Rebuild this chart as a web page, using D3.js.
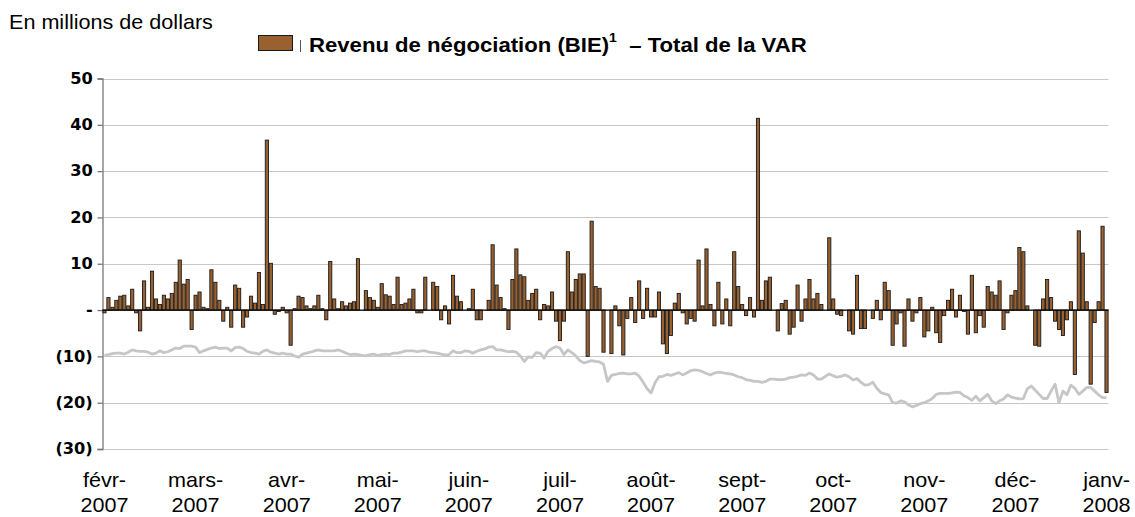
<!DOCTYPE html>
<html>
<head>
<meta charset="utf-8">
<script src="https://cdn.jsdelivr.net/npm/d3@7"></script>
<style>
  body { margin: 0; background: #fff; }
  svg { display: block; }
</style>
</head>
<body>
<div id="chart"></div>
<script>
// daily trading revenue, millions $ (one value per trading day, feb 2007 - jan 2008)
var revenue = [
  -0.6, 2.7, 0.6, 2.1, 3.0, 3.2, 0.9, 4.5, -0.6, -4.5,
  6.3, 0.6, 8.4, 2.4, 1.2, 3.2, 2.4, 3.6, 6.0, 10.8,
  5.6, 6.6, -4.2, 3.2, 3.9, 0.6, 0.3, 8.7, 6.0, 2.1,
  -2.4, 0.6, -3.7, 5.4, 4.7, -3.7, -1.5, 3.0, 1.5, 8.1,
  1.2, 36.7, 10.1, -0.9, -0.3, 0.6, -0.6, -7.6, 0.3, 3.0,
  2.7, 0.9, 0.3, 0.9, 3.2, 0.3, -2.1, 10.5, 2.4, 0.3,
  1.8, 0.9, 1.5, 1.8, 11.1, 0, 4.2, 2.7, 2.1, 0.6,
  5.7, 3.3, 3.0, 1.2, 7.1, 1.2, 1.5, 2.4, 4.5, -0.6,
  -0.6, 7.1, 0, 6.0, 5.1, -2.1, 0.9, -3.0, 7.5, 3.0,
  1.8, 0, 0.3, 4.5, -2.1, -2.1, 0, 2.1, 14.1, 5.4,
  2.7, 0.3, -4.2, 6.6, 13.2, 7.6, 7.2, 2.1, 3.6, 4.5,
  -2.1, 1.2, 0.9, 3.9, -2.4, -6.6, -2.4, 12.6, 3.9, 6.6,
  7.8, 7.8, -10.0, 19.2, 5.1, 4.7, -9.1, 0, -9.4, 0.9,
  -3.4, -9.7, -1.8, 2.7, -2.7, 6.3, -1.8, 4.7, -1.5, -1.5,
  3.9, -7.3, -9.4, -5.5, 1.5, 3.6, -0.6, -3.0, -1.8, -2.4,
  10.8, 0.9, 13.2, 1.2, -3.4, 6.0, -3.0, 2.4, -3.4, 12.6,
  5.1, 1.2, -1.2, 2.7, -1.5, 41.4, 2.1, 6.3, 7.1, 0,
  -4.5, 1.4, 2.1, -5.2, -3.7, 5.4, -2.4, 2.4, 6.6, 2.4,
  3.6, 1.2, 0, 15.6, 2.4, -0.9, -1.2, 0, -4.5, -5.2,
  7.5, -4.0, -4.0, 0, -1.8, 2.1, -2.1, 6.0, 4.2, -7.6,
  -3.0, -0.6, -7.8, 2.4, -2.4, -0.6, 2.7, -5.8, -4.5, 0.6,
  -4.9, -7.0, -1.2, 2.1, 4.5, -1.5, 3.2, -0.3, -5.2, 7.5,
  -4.9, -1.2, -3.7, 5.1, 3.9, 3.2, 6.3, -4.2, -0.6, 3.2,
  4.2, 13.5, 12.6, 0.9, 0, -7.6, -7.8, 2.4, 6.6, 2.7,
  -2.4, -4.2, -5.5, -2.1, 1.8, -13.9, 17.1, 12.3, 1.8, -16.0,
  -2.7, 1.8, 18.1, -17.8
];

// total VAR, same days
var varTotal = [
  -9.8, -9.6, -9.4, -9.3, -9.3, -9.5, -9.1, -8.6, -8.8, -8.9,
  -8.9, -9.1, -9.5, -9.3, -8.8, -9.2, -9.0, -8.6, -8.2, -8.3,
  -7.8, -7.8, -7.8, -8.0, -9.2, -8.8, -8.5, -8.2, -8.0, -8.3,
  -8.2, -8.2, -8.8, -8.1, -8.0, -8.3, -8.9, -9.2, -9.3, -9.5,
  -8.9, -8.6, -9.1, -9.3, -9.5, -9.3, -9.5, -9.5, -9.9, -10.2,
  -9.5, -9.3, -9.1, -8.8, -8.6, -8.8, -8.8, -8.8, -8.8, -8.6,
  -8.9, -9.3, -9.6, -9.5, -9.6, -9.8, -9.9, -9.6, -9.5, -9.8,
  -9.6, -9.5, -9.6, -9.3, -9.3, -9.1, -8.8, -8.8, -8.8, -9.0,
  -8.8, -8.8, -9.1, -9.2, -9.3, -9.5, -9.7, -9.6, -8.8, -9.2,
  -9.2, -8.8, -8.9, -9.3, -8.9, -8.6, -8.4, -8.0, -7.9, -8.6,
  -8.6, -8.8, -9.0, -8.9, -9.1, -9.9, -11.1, -10.1, -10.2, -9.2,
  -9.3, -10.4, -8.9, -8.3, -7.9, -8.2, -9.6, -8.6, -9.2, -9.9,
  -10.9, -11.4, -11.2, -10.9, -11.1, -11.2, -11.7, -15.4, -14.1, -13.9,
  -13.7, -13.6, -13.8, -13.8, -13.6, -14.3, -15.6, -17.0, -17.9, -15.7,
  -14.4, -14.3, -13.9, -14.1, -13.8, -13.5, -14.0, -13.6, -13.1, -12.9,
  -13.0, -13.3, -13.7, -14.0, -13.6, -13.4, -13.5, -13.7, -13.8, -14.0,
  -14.4, -14.6, -15.0, -15.2, -15.4, -15.4, -15.6, -15.4, -14.9, -14.9,
  -15.0, -15.0, -14.9, -14.6, -14.5, -14.3, -14.0, -14.1, -13.6, -14.0,
  -14.9, -14.9, -14.3, -13.8, -14.2, -14.5, -14.3, -14.0, -14.4, -15.1,
  -14.8, -15.6, -16.2, -16.1, -15.6, -16.9, -17.8, -18.1, -18.3, -20.0,
  -20.1, -19.6, -19.8, -20.5, -20.9, -20.6, -20.2, -20.0, -19.6, -19.1,
  -18.2, -18.0, -18.0, -18.0, -17.9, -17.7, -17.8, -18.5, -18.9, -19.5,
  -18.6, -19.6, -18.9, -18.2, -19.6, -20.2, -19.6, -19.2, -18.3, -18.8,
  -19.0, -19.2, -19.1, -17.0, -16.4, -17.3, -18.2, -19.1, -19.1, -17.5,
  -16.0, -20.0, -17.5, -18.3, -16.2, -16.9, -18.2, -17.5, -16.7, -16.7,
  -17.5, -18.3, -18.9, -18.9
];

var monthNames = ["févr-", "mars-", "avr-", "mai-", "juin-", "juil-", "août-", "sept-", "oct-", "nov-", "déc-", "janv-"];
var monthYears = ["2007", "2007", "2007", "2007", "2007", "2007", "2007", "2007", "2007", "2007", "2007", "2008"];
var monthDay = [0, 23, 46, 69, 92, 115, 138, 161, 184, 207, 230, 253];   // day index under each label
var yTicks = [-30, -20, -10, 0, 10, 20, 30, 40, 50];

var width = 1135, height = 517;
var stretch = 1.08;   // the picture is a bit wider than tall, text too

var svg = d3.select("#chart")
    .append("svg")
    .attr("width", width)
    .attr("height", height);

var x = d3.scaleBand()
    .domain(d3.range(revenue.length))
    .range([102.5, 1108.5])
    .paddingInner(0.2)
    .paddingOuter(0.1);

var y = d3.scaleLinear()
    .domain([-30, 50])
    .range([449, 78.5]);

// gridlines
svg.append("g")
    .selectAll("line")
    .data(yTicks)
    .enter()
    .append("line")
    .attr("x1", 102.5)
    .attr("x2", 1108.5)
    .attr("y1", function (d) { return Math.round(y(d)) + 0.5; })
    .attr("y2", function (d) { return Math.round(y(d)) + 0.5; })
    .style("stroke", "#c8c8c8")
    .style("stroke-width", 1.2);

// y axis
var yAxis = d3.axisLeft(y)
    .tickValues(yTicks)
    .tickSize(5)
    .tickPadding(4)
    .tickFormat(function (d) {
        if (d === 0) return "-";
        return d < 0 ? "(" + (-d) + ")" : d;
    });

var ga = svg.append("g")
    .attr("transform", "translate(102.5,0)")
    .call(yAxis);
ga.select(".domain").style("stroke", "#777").style("stroke-width", 1.3);
ga.selectAll(".tick line").style("stroke", "#777").style("stroke-width", 1.3);
ga.selectAll(".tick text")
    .attr("transform", "scale(" + stretch + ",1)")
    .style("font-family", "'DejaVu Sans', Verdana, sans-serif")
    .style("font-weight", "bold")
    .style("font-size", "15px")
    .style("fill", "#000");

// bars
svg.append("g")
    .selectAll("rect")
    .data(revenue)
    .enter()
    .append("rect")
    .attr("x", function (d, i) { return x(i); })
    .attr("width", x.bandwidth())
    .attr("y", function (d) { return y(Math.max(0, d)); })
    .attr("height", function (d) { return Math.abs(y(d) - y(0)); })
    .style("fill", "#9a6130")
    .style("stroke", "#1a1a1a")
    .style("stroke-width", 0.9);

// zero line
svg.append("line")
    .attr("x1", 102.5)
    .attr("x2", 1108.5)
    .attr("y1", y(0))
    .attr("y2", y(0))
    .style("stroke", "#000")
    .style("stroke-width", 1.3);

// VAR line
var line = d3.line()
    .x(function (d, i) { return x(i) + x.bandwidth() / 2; })
    .y(function (d) { return y(d); });

svg.append("path")
    .datum(varTotal)
    .attr("d", line)
    .style("fill", "none")
    .style("stroke", "#c6c6c6")
    .style("stroke-width", 2.8)
    .style("stroke-linejoin", "round");

// month labels
var gm = svg.append("g")
    .style("font-family", "'Liberation Sans', Arial, sans-serif")
    .style("font-size", "20px")
    .style("fill", "#000");

gm.selectAll("text.m")
    .data(monthNames)
    .enter()
    .append("text")
    .attr("class", "m")
    .attr("transform", function (d, i) {
        return "translate(" + (x(monthDay[i]) + x.bandwidth() / 2) + ",487) scale(" + stretch + ",1)";
    })
    .attr("text-anchor", "middle")
    .text(function (d) { return d; });

gm.selectAll("text.yr")
    .data(monthYears)
    .enter()
    .append("text")
    .attr("class", "yr")
    .attr("transform", function (d, i) {
        return "translate(" + (x(monthDay[i]) + x.bandwidth() / 2) + ",512) scale(" + stretch + ",1)";
    })
    .attr("text-anchor", "middle")
    .text(function (d) { return d; });

// unit label
svg.append("text")
    .attr("transform", "translate(9,29) scale(" + stretch + ",1)")
    .style("font-family", "'Liberation Sans', Arial, sans-serif")
    .style("font-size", "20px")
    .text("En millions de dollars");

// legend
svg.append("rect")
    .attr("x", 258.5)
    .attr("y", 35.5)
    .attr("width", 34)
    .attr("height", 15)
    .style("fill", "#9a6130")
    .style("stroke", "#1a1a1a")
    .style("stroke-width", 1);

svg.append("line")
    .attr("x1", 300.5)
    .attr("x2", 300.5)
    .attr("y1", 40)
    .attr("y2", 52)
    .style("stroke", "#555")
    .style("stroke-width", 1);

var lg = svg.append("text")
    .attr("transform", "translate(309,52) scale(" + stretch + ",1)")
    .style("font-family", "'Liberation Sans', Arial, sans-serif")
    .style("font-weight", "bold")
    .style("font-size", "20.5px");
lg.append("tspan").text("Revenu de négociation (BIE)");
lg.append("tspan").attr("dy", -10).style("font-size", "13px").text("1");
lg.append("tspan").attr("dy", 10).attr("xml:space", "preserve").text("  – Total de la VAR");
</script>
</body>
</html>
